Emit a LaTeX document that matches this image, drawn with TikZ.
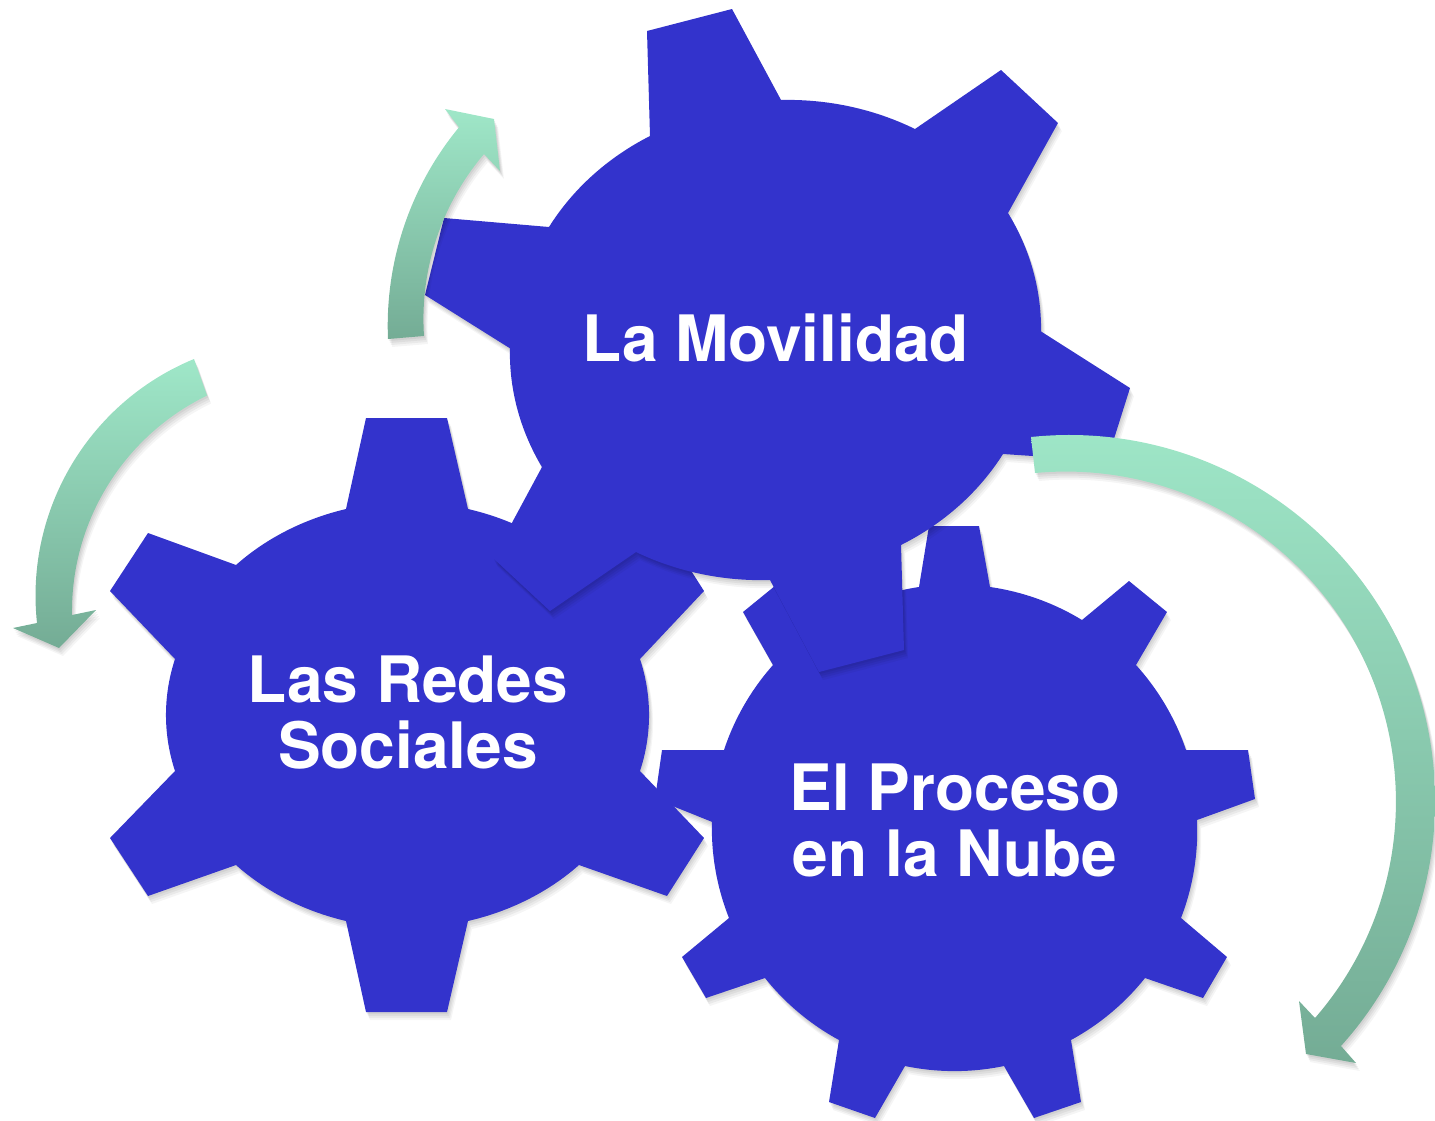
\documentclass[tikz,border=0pt]{standalone}
\usepackage{fontspec}
\setmainfont{TeX Gyre Heros}
\usetikzlibrary{svg.path}
\definecolor{gearblue}{HTML}{3333CC}
\definecolor{arrowlight}{HTML}{9FE7C8}
\definecolor{arrowmid}{HTML}{9ADFC2}
\definecolor{arrowdark}{HTML}{74AC95}
\tikzset{
  gearfill/.style={fill=gearblue},
  arrowfill/.style={top color=arrowlight,middle color=arrowmid,bottom color=arrowdark},
  label text/.style={text=white,font=\bfseries\fontsize{32}{33}\selectfont,align=center,inner sep=0pt}
}
\newcommand\gearTop[1]{\path[#1] svg {M 647 31 L 732 9 L 781 100 A 266 240 0 0 1 915 129 L 1001 70 L 1058 123 L 1008 213 A 266 240 0 0 1 1041 334 L 1130 388 L 1107 461 L 1003 454 A 266 240 0 0 1 901 545 L 904 650 L 819 672 L 770 580 A 266 240 0 0 1 636 552 L 550 611 L 493 558 L 542 467 A 266 240 0 0 1 510 346 L 425 295 L 444 218 L 549 227 A 266 240 0 0 1 650 136 Z};}
\newcommand\gearLeft[1]{\path[#1] svg {M 366 418 L 447 418 L 468 509 A 242 207 0 0 1 579 565 L 667 533 L 704 591 L 640 659 A 242 207 0 0 1 640 771 L 704 838 L 667 896 L 579 865 A 242 207 0 0 1 468 921 L 447 1012 L 366 1012 L 346 921 A 242 207 0 0 1 236 865 L 148 896 L 110 838 L 175 771 A 242 207 0 0 1 175 659 L 110 591 L 148 533 L 236 565 A 242 207 0 0 1 346 509 Z};}
\newcommand\gearBottom[1]{\path[#1] svg {M 929 526 L 979 526 L 990 587 A 243 243 0 0 1 1082 620 L 1129 581 L 1167 612 L 1136 665 A 243 243 0 0 1 1186 750 L 1248 750 L 1255 799 L 1197 820 A 243 243 0 0 1 1181 918 L 1227 957 L 1203 998 L 1145 978 A 243 243 0 0 1 1071 1040 L 1081 1102 L 1034 1118 L 1004 1066 A 243 243 0 0 1 905 1066 L 875 1118 L 829 1102 L 839 1040 A 243 243 0 0 1 765 978 L 706 998 L 682 957 L 729 918 A 243 243 0 0 1 712 820 L 655 799 L 662 750 L 724 750 A 243 243 0 0 1 773 665 L 743 612 L 781 581 L 828 620 A 243 243 0 0 1 919 587 Z};}
\newcommand\arrowRight[1]{\path[#1] svg {M 1031 437 A 366 366 0 0 1 1341 1046 L 1356 1063 L 1306 1054 L 1299 1001 L 1315 1018 A 330 330 0 0 0 1035 473 Z};}
\newcommand\arrowUp[1]{\path[#1] svg {M 388 339 A 312 312 0 0 1 459 127 L 445 109 L 494 119 L 500 171 L 484 154 A 255 255 0 0 0 424 336 Z};}
\newcommand\arrowLeft[1]{\path[#1] svg {M 194 359 A 256 256 0 0 0 37 623 L 13 628 L 59 648 L 96 610 L 72 615 A 240 240 0 0 1 207 393 Z};}
\newcommand\softshadow[1]{%
  #1{fill=black,opacity=.05,shift={(1,2)}}%
  #1{fill=black,opacity=.05,shift={(2,4)}}%
  #1{fill=black,opacity=.05,shift={(3,6)}}%
  #1{fill=black,opacity=.04,shift={(4,8)}}%
}
\begin{document}
\begin{tikzpicture}[x=1pt,y=1pt]
\begin{scope}[xscale=.5,yscale=-.5]
  \useasboundingbox (0,0) rectangle (1435,1120);
  \softshadow\gearBottom
  \gearBottom{gearfill}
  \softshadow\gearLeft
  \gearLeft{gearfill}
  \softshadow\gearTop
  \gearTop{gearfill}
  \softshadow\arrowRight
  \arrowRight{arrowfill}
  \softshadow\arrowUp
  \arrowUp{arrowfill}
  \softshadow\arrowLeft
  \arrowLeft{arrowfill}
  \node[label text] (mov) at (776,338) {La Movilidad};
  \node[label text] (red) at (408,713) {Las Redes\\Sociales};
  \node[label text] (nub) at (955,820) {El Proceso\\en la Nube};
\end{scope}
\end{tikzpicture}
\end{document}
